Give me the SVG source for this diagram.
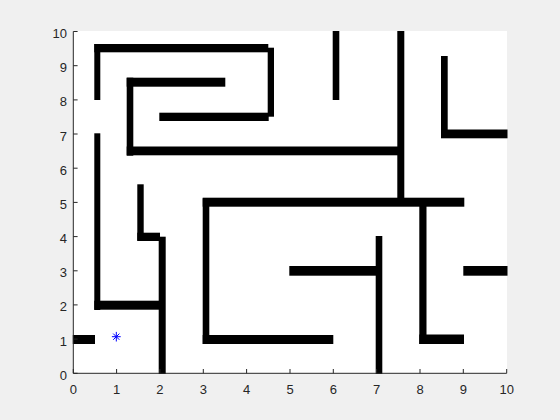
<svg xmlns="http://www.w3.org/2000/svg" width="560" height="420" viewBox="0 0 560 420">
<style>
.wall{fill:#000}
.ax{stroke:#262626;stroke-width:1;fill:none}
.tl{font-family:"Liberation Sans",Arial,sans-serif;font-size:13px;fill:#262626}
.star{stroke:#0000ff;stroke-width:1;fill:none}
</style>
<rect x="0" y="0" width="560" height="420" fill="#f0f0f0"/>
<rect x="73" y="31" width="434" height="343" fill="#ffffff"/>
<g id="walls" class="wall">
<rect x="94.3" y="44" width="6" height="56"/>
<rect x="94.3" y="44" width="174" height="8.3"/>
<rect x="267.7" y="47.7" width="6.3" height="69"/>
<rect x="159.3" y="112.7" width="109.4" height="8.3"/>
<rect x="126.7" y="77.7" width="98.6" height="9"/>
<rect x="126.7" y="77.7" width="6.6" height="78"/>
<rect x="126.7" y="146.5" width="271.3" height="8.8"/>
<rect x="94.3" y="133.3" width="6" height="176.7"/>
<rect x="137.3" y="184.3" width="6.4" height="56.4"/>
<rect x="332.7" y="31" width="6.6" height="69"/>
<rect x="397.3" y="31" width="7" height="167"/>
<rect x="441" y="56" width="6.7" height="81.3"/>
<rect x="441" y="129.5" width="66.5" height="8.8"/>
<rect x="94.3" y="300.7" width="65.2" height="9"/>
<rect x="158.7" y="236.7" width="7" height="137.3"/>
<rect x="137.3" y="232.7" width="22.7" height="8.3"/>
<rect x="72.8" y="335" width="22.2" height="9"/>
<rect x="202.7" y="198.3" width="6.6" height="145.7"/>
<rect x="202.7" y="197.7" width="261.6" height="9"/>
<rect x="202.7" y="335" width="130.6" height="9"/>
<rect x="419.3" y="203.3" width="7.2" height="140.7"/>
<rect x="419.3" y="334.5" width="44.7" height="9.5"/>
<rect x="375.7" y="236" width="6.6" height="138"/>
<rect x="289.3" y="266" width="90.7" height="9.7"/>
<rect x="463.3" y="266" width="44.2" height="9.7"/>
</g>
<g id="star" class="star">
<path d="M111.9 336.7H120.7M116.3 331.9V341.5M113.2 333.6L119.4 339.8M113.2 339.8L119.4 333.6"/>
</g>
<g id="axes" class="ax">
<path d="M73.3 31.5V373.3H506.7"/>
<path d="M73.3 373.3v-4.3M116.6 373.3v-4.3M159.9 373.3v-4.3M203.3 373.3v-4.3M246.6 373.3v-4.3M290 373.3v-4.3M333.3 373.3v-4.3M376.6 373.3v-4.3M420 373.3v-4.3M463.3 373.3v-4.3M506.7 373.3v-4.3"/>
<path d="M73.3 373.3h4.3M73.3 339.1h4.3M73.3 304.9h4.3M73.3 270.8h4.3M73.3 236.6h4.3M73.3 202.4h4.3M73.3 168.2h4.3M73.3 134h4.3M73.3 99.9h4.3M73.3 65.7h4.3M73.3 31.5h4.3"/>
</g>
<g id="xlabels" class="tl" text-anchor="middle">
<text x="73.3" y="393.5">0</text>
<text x="116.6" y="393.5">1</text>
<text x="159.9" y="393.5">2</text>
<text x="203.3" y="393.5">3</text>
<text x="246.6" y="393.5">4</text>
<text x="290" y="393.5">5</text>
<text x="333.3" y="393.5">6</text>
<text x="376.6" y="393.5">7</text>
<text x="420" y="393.5">8</text>
<text x="463.3" y="393.5">9</text>
<text x="506.7" y="393.5">10</text>
</g>
<g id="ylabels" class="tl" text-anchor="end">
<text x="67" y="379.8">0</text>
<text x="67" y="345.6">1</text>
<text x="67" y="311.4">2</text>
<text x="67" y="277.3">3</text>
<text x="67" y="243.1">4</text>
<text x="67" y="208.9">5</text>
<text x="67" y="174.7">6</text>
<text x="67" y="140.5">7</text>
<text x="67" y="106.4">8</text>
<text x="67" y="72.2">9</text>
<text x="67" y="38">10</text>
</g>
</svg>
